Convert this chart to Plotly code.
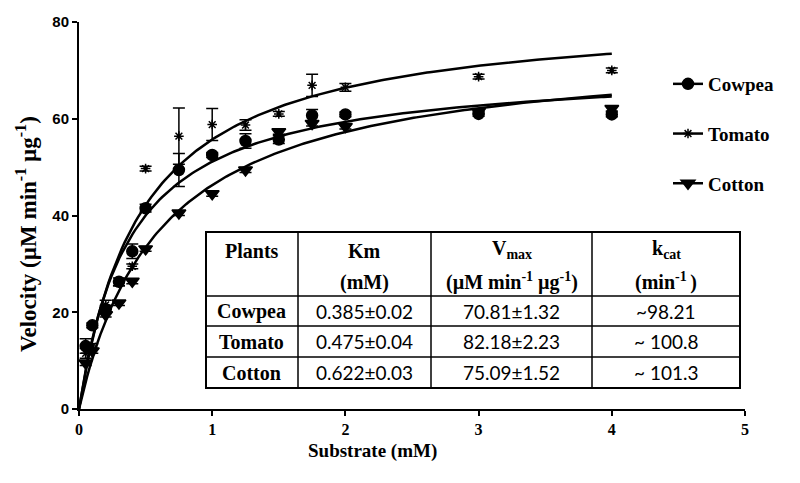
import plotly.graph_objects as go
import numpy as np

# ---------------- data ----------------
substrate = [0.05, 0.1, 0.2, 0.3, 0.4, 0.5, 0.75, 1.0, 1.25, 1.5, 1.75, 2.0, 3.0, 4.0]
cowpea = [13.0, 17.3, 20.6, 26.3, 32.6, 41.5, 49.4, 52.5, 55.4, 55.7, 60.7, 60.9, 61.0, 60.9]
cowpea_err = [1.5, 0.5, 0.8, 0.8, 1.5, 0.8, 3.4, 0.5, 1.5, 0.8, 1.2, 0.5, 0.5, 0.5]
tomato = [11.5, 13.0, 21.5, 26.0, 29.5, 49.7, 56.4, 58.8, 58.7, 61.0, 66.9, 66.5, 68.7, 70.0]
tomato_err = [1.0, 0.5, 1.0, 0.5, 0.5, 0.5, 5.8, 3.3, 1.1, 0.5, 2.3, 0.8, 0.5, 0.5]
cotton = [9.5, 12.0, 19.5, 21.9, 26.4, 33.1, 40.5, 44.5, 49.4, 57.3, 59.0, 58.4, 61.5, 62.1]
cotton_err = [0.5, 0.5, 0.5, 0.5, 0.5, 0.5, 0.5, 0.5, 0.5, 0.5, 0.5, 0.5, 0.5, 0.5]

plants = ["Cowpea", "Tomato", "Cotton"]
km = [0.385, 0.475, 0.622]
vmax = [70.81, 82.18, 75.09]
km_text = ["0.385±0.02", "0.475±0.04", "0.622±0.03"]
vmax_text = ["70.81±1.32", "82.18±2.23", "75.09±1.52"]
kcat_text = ["~98.21", "~ 100.8", "~ 101.3"]

x_ticks = [0, 1, 2, 3, 4, 5]
y_ticks = [0, 20, 40, 60, 80]

# ---------------- layout helpers ----------------
W, H = 800, 483
ML, MR, MT, MB = 79, 55, 22, 74
PW, PH = W - ML - MR, H - MT - MB


def px(xp):
    return (xp - ML) / PW


def py(yp):
    return (H - MB - yp) / PH


SERIF = "Liberation Serif"
SANS = "Liberation Sans"

fig = go.Figure()

symbols = {"Cowpea": ("circle", 11), "Tomato": ("asterisk-open", 8), "Cotton": ("triangle-down", 12)}
series = {"Cowpea": (cowpea, cowpea_err), "Tomato": (tomato, tomato_err), "Cotton": (cotton, cotton_err)}

# fitted Michaelis-Menten curves from the table parameters
s_fit = np.linspace(0, 4, 200)
for name, k, v in zip(plants, km, vmax):
    fig.add_trace(go.Scatter(x=s_fit, y=v * s_fit / (k + s_fit), mode="lines",
                             line=dict(color="black", width=2.5), showlegend=False,
                             hoverinfo="skip"))

for name in plants:
    ys, es = series[name]
    sym, size = symbols[name]
    fig.add_trace(go.Scatter(
        x=substrate, y=ys, mode="markers", showlegend=False,
        marker=dict(symbol=sym, size=size, color="black",
                    line=dict(color="black", width=1.5)),
        error_y=dict(type="data", array=es, visible=True, color="black",
                     thickness=1.5, width=6)))

# legend entries (line + marker)
for i, name in enumerate(plants):
    sym, size = symbols[name]
    fig.add_trace(go.Scatter(
        x=[None], y=[None], mode="lines+markers", name=name, legendgroup=name,
        marker=dict(symbol=sym, size=size, color="black",
                    line=dict(color="black", width=1.5)),
        line=dict(color="black", width=2.5)))

# ---------------- table ----------------
col_x = [206, 298, 431, 592, 740]
row_y = [232, 296, 326, 357, 388]
shapes = []
shapes.append(dict(type="rect", xref="paper", yref="paper",
                   x0=px(col_x[0]), x1=px(col_x[-1]), y0=py(row_y[0]), y1=py(row_y[-1]),
                   line=dict(color="black", width=2), fillcolor="white", layer="above"))
for cx in col_x[1:-1]:
    shapes.append(dict(type="line", xref="paper", yref="paper",
                       x0=px(cx), x1=px(cx), y0=py(row_y[0]), y1=py(row_y[-1]),
                       line=dict(color="black", width=1.5)))
for ry in row_y[1:-1]:
    shapes.append(dict(type="line", xref="paper", yref="paper",
                       x0=px(col_x[0]), x1=px(col_x[-1]), y0=py(ry), y1=py(ry),
                       line=dict(color="black", width=1.5)))

annotations = []


def add_text(text, xp, yp, family, size, bold, angle=0):
    annotations.append(dict(text=text, x=px(xp), y=py(yp), xref="paper", yref="paper",
                            showarrow=False, xanchor="center", yanchor="middle",
                            textangle=angle,
                            font=dict(family=family, size=size, color="black",
                                      weight="bold" if bold else "normal")))


col_c = [(col_x[i] + col_x[i + 1]) / 2 for i in range(4)]
HS = 20
add_text("Plants", col_c[0], 251, SERIF, HS, True)
add_text("Km", col_c[1], 251, SERIF, HS, True)
add_text("(mM)", col_c[1], 282, SERIF, HS, True)
add_text("V<sub>max</sub>", col_c[2], 250, SERIF, HS, True)
add_text("(µM min<sup>-1</sup> µg<sup>-1</sup>)", col_c[2], 281, SERIF, HS, True)
add_text("k<sub>cat</sub>", col_c[3], 250, SERIF, HS, True)
add_text("(min<sup>-1 </sup>)", col_c[3], 281, SERIF, HS, True)

row_c = [(row_y[i] + row_y[i + 1]) / 2 for i in range(1, 4)]
for i, name in enumerate(plants):
    add_text(name, col_c[0], row_c[i], SERIF, HS, True)
    add_text(km_text[i], col_c[1], row_c[i], "Lato", 19, False)
    add_text(vmax_text[i], col_c[2], row_c[i], "Lato", 19, False)
    add_text(kcat_text[i], col_c[3], row_c[i], "Lato", 19, False)

# axis titles (placed as in the reference, off-centre)
add_text("Substrate (mM)", 372, 451, SERIF, 19, True)
add_text("Velocity (µM min<sup>-1</sup> µg<sup>-1</sup>)", 26, 234, SERIF, 23, True, angle=-90)

fig.update_layout(
    width=W, height=H,
    margin=dict(l=ML, r=MR, t=MT, b=MB),
    paper_bgcolor="white", plot_bgcolor="white",
    shapes=shapes, annotations=annotations,
    showlegend=True,
    legend=dict(x=px(668), y=py(65), xanchor="left", yanchor="top",
                font=dict(family=SERIF, size=19, color="black", weight="bold"),
                tracegroupgap=22, bgcolor="rgba(0,0,0,0)"),
    xaxis=dict(range=[0, 5], tickvals=x_ticks, showgrid=False, zeroline=False,
               automargin=False,
               showline=True, linecolor="black", linewidth=2,
               ticks="outside", ticklen=5, tickwidth=2, tickcolor="black",
               tickfont=dict(family=SERIF, size=16, color="black", weight="bold")),
    yaxis=dict(range=[0, 80], tickvals=y_ticks, showgrid=False, zeroline=False,
               automargin=False,
               showline=True, linecolor="black", linewidth=2,
               ticks="outside", ticklen=5, tickwidth=2, tickcolor="black",
               tickfont=dict(family=SANS, size=15, color="black", weight="bold")),
)

fig.write_html("out.html", config={"displayModeBar": False},
               post_script="document.body.style.margin='0';")
